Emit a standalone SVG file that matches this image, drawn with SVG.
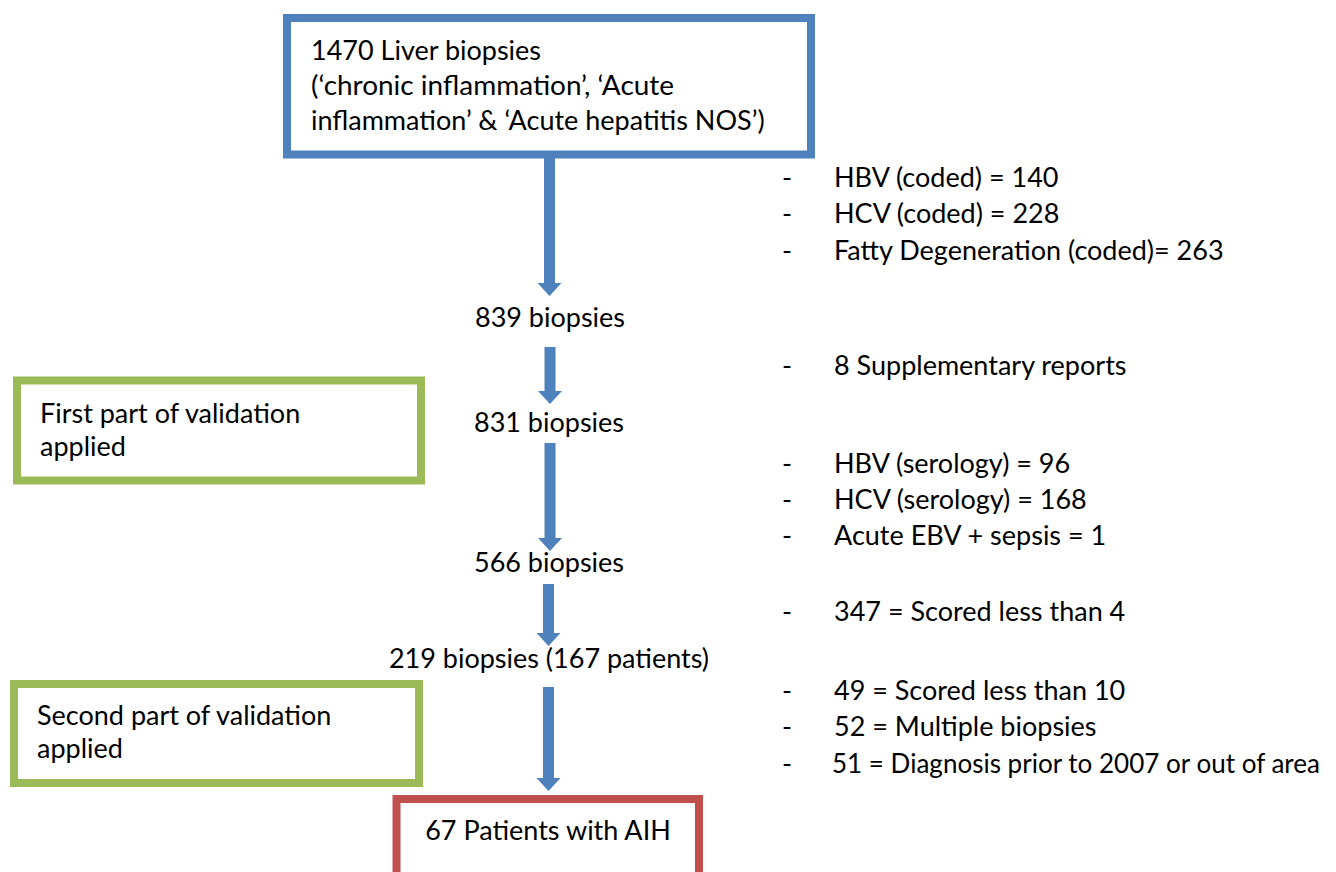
<svg xmlns="http://www.w3.org/2000/svg" width="1336" height="872" viewBox="0 0 1336 872">
<style>
text{font-family:Lato,"Open Sans","Liberation Sans",sans-serif;font-size:27px;fill:#000}
.c{text-anchor:middle}
.blue{fill:#fff;stroke:#4f81bd;stroke-width:8}
.green{fill:#fff;stroke:#9bbb59;stroke-width:8}
.red{fill:#fff;stroke:#c0504d;stroke-width:8}
.arr{stroke:#4f81bd;stroke-width:11;fill:none}
</style>
<defs>
<marker id="ah" markerUnits="userSpaceOnUse" markerWidth="13" markerHeight="24" refX="0" refY="12" orient="auto" viewBox="0 0 13 24">
<path d="M0,0 L13,12 L0,24 Z" fill="#4f81bd"/>
</marker>
</defs>
<rect width="1336" height="872" fill="#fff"/>
<g id="connectors">
<line class="arr" x1="549.5" y1="154" x2="549.5" y2="283" marker-end="url(#ah)"/>
<line class="arr" x1="550" y1="347" x2="550" y2="391" marker-end="url(#ah)"/>
<line class="arr" x1="550" y1="443" x2="550" y2="538" marker-end="url(#ah)"/>
<line class="arr" x1="548.5" y1="584" x2="548.5" y2="633" marker-end="url(#ah)"/>
<line class="arr" x1="548.5" y1="687" x2="548.5" y2="778" marker-end="url(#ah)"/>
</g>
<g id="n-start">
<rect class="blue" x="287" y="18" width="524" height="136.5"/>
<text x="311" y="60">1470 Liver biopsies</text>
<text x="311" y="95" textLength="363" lengthAdjust="spacingAndGlyphs">(‘chronic inflammation’, ‘Acute</text>
<text x="311" y="130">inflammation’ &amp; ‘Acute hepatitis NOS’)</text>
</g>
<g id="n-839"><text class="c" x="550" y="327">839 biopsies</text></g>
<g id="n-831"><text class="c" x="549" y="432">831 biopsies</text></g>
<g id="n-566"><text class="c" x="549" y="572">566 biopsies</text></g>
<g id="n-219"><text class="c" x="549" y="668">219 biopsies (167 patients)</text></g>
<g id="n-aih">
<rect class="red" x="396.5" y="799" width="302.5" height="90"/>
<text class="c" x="548" y="840">67 Patients with AIH</text>
</g>
<g id="n-val1">
<rect class="green" x="17" y="380.5" width="404" height="100"/>
<text x="40" y="423">First part of validation</text>
<text x="40" y="456">applied</text>
</g>
<g id="n-val2">
<rect class="green" x="14" y="684" width="405" height="99"/>
<text x="37" y="725">Second part of validation</text>
<text x="37" y="758">applied</text>
</g>
<g id="ex1">
<text x="782" y="187">-</text><text x="834" y="187">HBV (coded) = 140</text>
<text x="782" y="223">-</text><text x="834" y="223">HCV (coded) = 228</text>
<text x="782" y="260">-</text><text x="834" y="260">Fatty Degeneration (coded)= 263</text>
</g>
<g id="ex2">
<text x="782" y="375">-</text><text x="834" y="375">8 Supplementary reports</text>
</g>
<g id="ex3">
<text x="782" y="473">-</text><text x="834" y="473">HBV (serology) = 96</text>
<text x="782" y="509">-</text><text x="834" y="509">HCV (serology) = 168</text>
<text x="782" y="545">-</text><text x="834" y="545">Acute EBV + sepsis = 1</text>
</g>
<g id="ex4">
<text x="782" y="621">-</text><text x="834" y="621">347 = Scored less than 4</text>
</g>
<g id="ex5">
<text x="782" y="700">-</text><text x="834" y="700">49 = Scored less than 10</text>
<text x="782" y="736">-</text><text x="834" y="736">52 = Multiple biopsies</text>
<text x="782" y="773">-</text><text x="832" y="773" textLength="488" lengthAdjust="spacingAndGlyphs">51 = Diagnosis prior to 2007 or out of area</text>
</g>
</svg>
